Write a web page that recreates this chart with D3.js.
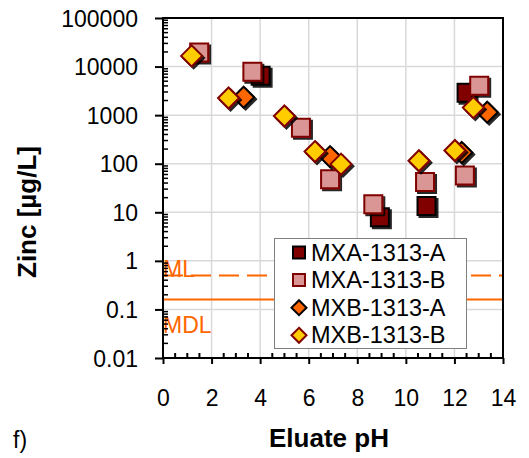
<!DOCTYPE html>
<html><head><meta charset="utf-8">
<script src="https://cdn.jsdelivr.net/npm/d3@7"></script>
<style>body{margin:0;background:#fff}svg{display:block;font-family:"Liberation Sans",Arial,sans-serif}</style>
</head><body><svg id="c" width="529" height="458"></svg>
<script>
// ---- data ----
const seriesNames = ["MXA-1313-A","MXA-1313-B","MXB-1313-A","MXB-1313-B"];
const mxaA_pH = [4.02, 8.93, 10.85, 12.5];
const mxaA_zn = [6500, 7.9, 13.5, 2900];
const mxaB_pH = [1.49, 3.68, 5.68, 6.88, 8.66, 10.79, 12.43, 13.02];
const mxaB_zn = [19600, 7850, 550, 48, 14.7, 42, 57, 4050];
const mxbA_pH = [3.32, 6.88, 12.3, 13.35];
const mxbA_zn = [2340, 140, 170, 1150];
const mxbB_pH = [1.18, 2.70, 5.0, 6.26, 7.33, 10.54, 12.02, 12.78];
const mxbB_zn = [16600, 2250, 960, 178, 98, 115, 187, 1430];
const ML = 0.5, MDL = 0.16;
const xTicks = [0,2,4,6,8,10,12,14];
const yTicks = [0.01,0.1,1,10,100,1000,10000,100000];
const yTickLabels = ["0.01","0.1","1","10","100","1000","10000","100000"];

const svg = d3.select("#c");
const L=163, R=503, T=18, B=358;
const x = d3.scaleLinear().domain([0,14]).range([L,R]);
const y = d3.scaleLog().domain([0.01,100000]).range([B,T]);

const defs = svg.append("defs");
const f = defs.append("filter").attr("id","sh").attr("x","-50%").attr("y","-50%").attr("width","200%").attr("height","200%");
f.append("feDropShadow").attr("dx",2).attr("dy",2).attr("stdDeviation",0.7).attr("flood-color","#000").attr("flood-opacity",0.85);

// grid
const g = svg.append("g");
g.selectAll(".vg").data(xTicks.slice(1,-1)).join("line")
 .attr("x1",d=>x(d)).attr("x2",d=>x(d)).attr("y1",T).attr("y2",B)
 .attr("stroke","#d9d9d9").attr("stroke-width",1.5);
g.selectAll(".hg").data(yTicks.slice(1,-1)).join("line")
 .attr("y1",d=>y(d)).attr("y2",d=>y(d)).attr("x1",L).attr("x2",R)
 .attr("stroke","#d9d9d9").attr("stroke-width",1.5);

// ML / MDL lines
const orange="#ff6600";
svg.append("line").attr("x1",L).attr("x2",R).attr("y1",y(ML)).attr("y2",y(ML))
 .attr("stroke",orange).attr("stroke-width",2).attr("stroke-dasharray","20,8");
svg.append("line").attr("x1",L).attr("x2",R).attr("y1",y(MDL)).attr("y2",y(MDL))
 .attr("stroke",orange).attr("stroke-width",2);
svg.append("text").attr("x",L).attr("y",y(ML)+2).attr("font-size",23).attr("fill",orange).text("ML");
svg.append("text").attr("x",L).attr("y",y(MDL)+33).attr("font-size",23).attr("fill",orange).text("MDL");

// axes
const xAxis = d3.axisBottom(x).tickValues(xTicks).tickSize(6).tickFormat(d3.format("d"));
const ax = svg.append("g").attr("transform",`translate(0,${B})`).call(xAxis);
ax.select(".domain").remove();
ax.selectAll("line").attr("stroke","#000").attr("stroke-width",2);
ax.selectAll("text").attr("font-size",23).attr("fill","#000").attr("dy",0).attr("y",48);
const xMinor = d3.range(0,14.01,0.5).filter(v=>v%2!==0);
svg.append("g").selectAll("line").data(xMinor).join("line")
 .attr("x1",d=>x(d)).attr("x2",d=>x(d)).attr("y1",B).attr("y2",B-5).attr("stroke","#000").attr("stroke-width",2);

const yAxis = d3.axisLeft(y).tickValues(yTicks).tickSize(8).tickFormat((d,i)=>yTickLabels[i]);
const ay = svg.append("g").attr("transform",`translate(${L},0)`).call(yAxis);
ay.select(".domain").remove();
ay.selectAll("line").attr("stroke","#000").attr("stroke-width",2).attr("x2",-8);
ay.selectAll("text").attr("font-size",23).attr("fill","#000").attr("x",-25).attr("dy","0.35em");
const yMinor=[];
for(let e=-2;e<5;e++) for(let m=2;m<=9;m++) yMinor.push(m*Math.pow(10,e));
svg.append("g").selectAll("line").data(yMinor).join("line")
 .attr("x1",L).attr("x2",L+5).attr("y1",d=>y(d)).attr("y2",d=>y(d)).attr("stroke","#000").attr("stroke-width",1.5);

// frame
svg.append("rect").attr("x",L).attr("y",T).attr("width",R-L).attr("height",B-T)
 .attr("fill","none").attr("stroke","#000").attr("stroke-width",2);

// markers
const sq = d3.symbol().type(d3.symbolSquare).size(18*18);
const dm = (s)=>`M0,${-s}L${s},0L0,${s}L${-s},0Z`;
const styles = [
 {type:"sq", fill:"#800000", stroke:"#000"},
 {type:"sq", fill:"#d99694", stroke:"#800000"},
 {type:"dm", fill:"#ff6600", stroke:"#000"},
 {type:"dm", fill:"#ffcc00", stroke:"#800000"}
];
const data = [[mxaA_pH,mxaA_zn],[mxaB_pH,mxaB_zn],[mxbA_pH,mxbA_zn],[mxbB_pH,mxbB_zn]];
data.forEach((s,i)=>{
  const st = styles[i];
  const pts = s[0].map((p,j)=>({p, z:s[1][j]}));
  svg.append("g").attr("filter","url(#sh)").selectAll("path").data(pts).join("path")
   .attr("transform",d=>`translate(${x(d.p)},${y(d.z)})`)
   .attr("d", st.type==="sq" ? sq() : dm(10.5))
   .attr("fill",st.fill).attr("stroke",st.stroke).attr("stroke-width",2);
});

// legend
const lg = svg.append("g");
lg.append("rect").attr("x",274.5).attr("y",238.5).attr("width",192).attr("height",110)
 .attr("fill","#fff").attr("stroke","#808080").attr("stroke-width",1);
const sqL = d3.symbol().type(d3.symbolSquare).size(12*12);
seriesNames.forEach((n,i)=>{
  const cy = 252.5 + i*27.6;
  const st = styles[i];
  lg.append("path").attr("transform",`translate(299,${cy})`)
   .attr("d", st.type==="sq" ? sqL() : dm(7.5))
   .attr("fill",st.fill).attr("stroke",st.stroke).attr("stroke-width",2);
  lg.append("text").attr("x",311).attr("y",cy+8).attr("font-size",23.5).attr("fill","#000").text(n);
});

// titles
svg.append("text").attr("x",329).attr("y",447).attr("text-anchor","middle")
 .attr("font-size",26).attr("font-weight","bold").text("Eluate pH");
svg.append("text").attr("transform","translate(36,212) rotate(-90)").attr("text-anchor","middle")
 .attr("font-size",26).attr("font-weight","bold").text("Zinc [µg/L]");
svg.append("text").attr("x",13).attr("y",448).attr("font-size",23).text("f)");
</script></body></html>
